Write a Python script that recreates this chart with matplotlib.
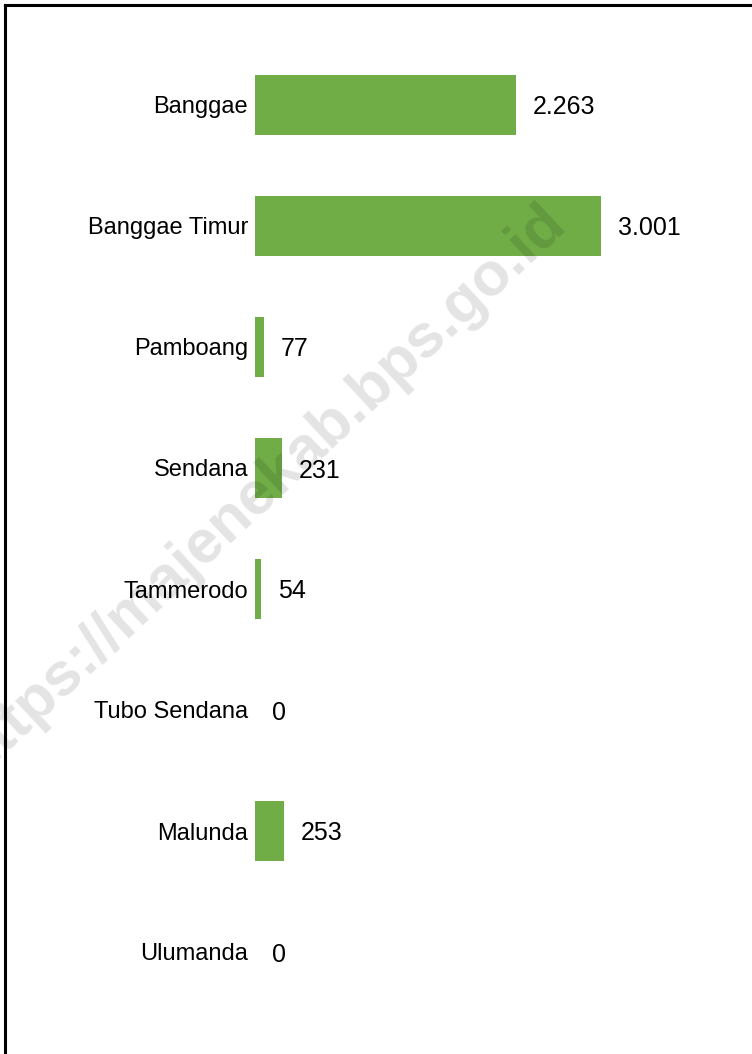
import matplotlib
matplotlib.use("Agg")
import matplotlib.pyplot as plt
from matplotlib.lines import Line2D

kecamatan = ["Banggae", "Banggae Timur", "Pamboang", "Sendana",
             "Tammerodo", "Tubo Sendana", "Malunda", "Ulumanda"]
nilai = [2263, 3001, 77, 231, 54, 0, 253, 0]
label_nilai = ["2.263", "3.001", "77", "231", "54", "0", "253", "0"]

plt.rcParams['font.family'] = ['Liberation Sans', 'DejaVu Sans']

W, H = 752, 1054
fig = plt.figure(figsize=(W / 100, H / 100), dpi=100)

ax = fig.add_axes([255 / W, 1 - 1012.5 / H, (W - 255) / W, 968 / H])
ax.patch.set_visible(False)

y = range(len(kecamatan))
ax.barh(y, nilai, height=0.5, color='#70ad47')
ax.set_ylim(len(kecamatan) - 0.5, -0.5)
ax.set_xlim(0, (W - 255) / 0.1153)

for i, v in enumerate(nilai):
    ax.annotate(label_nilai[i], (v, i), xytext=(17, 0), textcoords='offset pixels',
                ha='left', va='center_baseline', fontsize=18, color='black')

ax.set_yticks(list(y))
ax.set_yticklabels(kecamatan, fontsize=17, va='center_baseline')
ax.tick_params(axis='y', length=0, pad=5)
ax.set_xticks([])
for s in ax.spines.values():
    s.set_visible(False)

# semi-transparent watermark on top (cut off at the left edge like the original)
fig.text(262 / W, 1 - 490 / H, "https://majenekab.bps.go.id", rotation=43,
         fontsize=44, fontweight='bold', color='black', alpha=0.11,
         ha='center', va='center', zorder=10)

# frame lines (left and top)
fig.add_artist(Line2D([5 / W, 5 / W], [0, 1 - 5 / H], color='black', lw=2.2))
fig.add_artist(Line2D([5 / W, 1], [1 - 5 / H, 1 - 5 / H], color='black', lw=2.2))

fig.savefig("out.png", dpi=100)
